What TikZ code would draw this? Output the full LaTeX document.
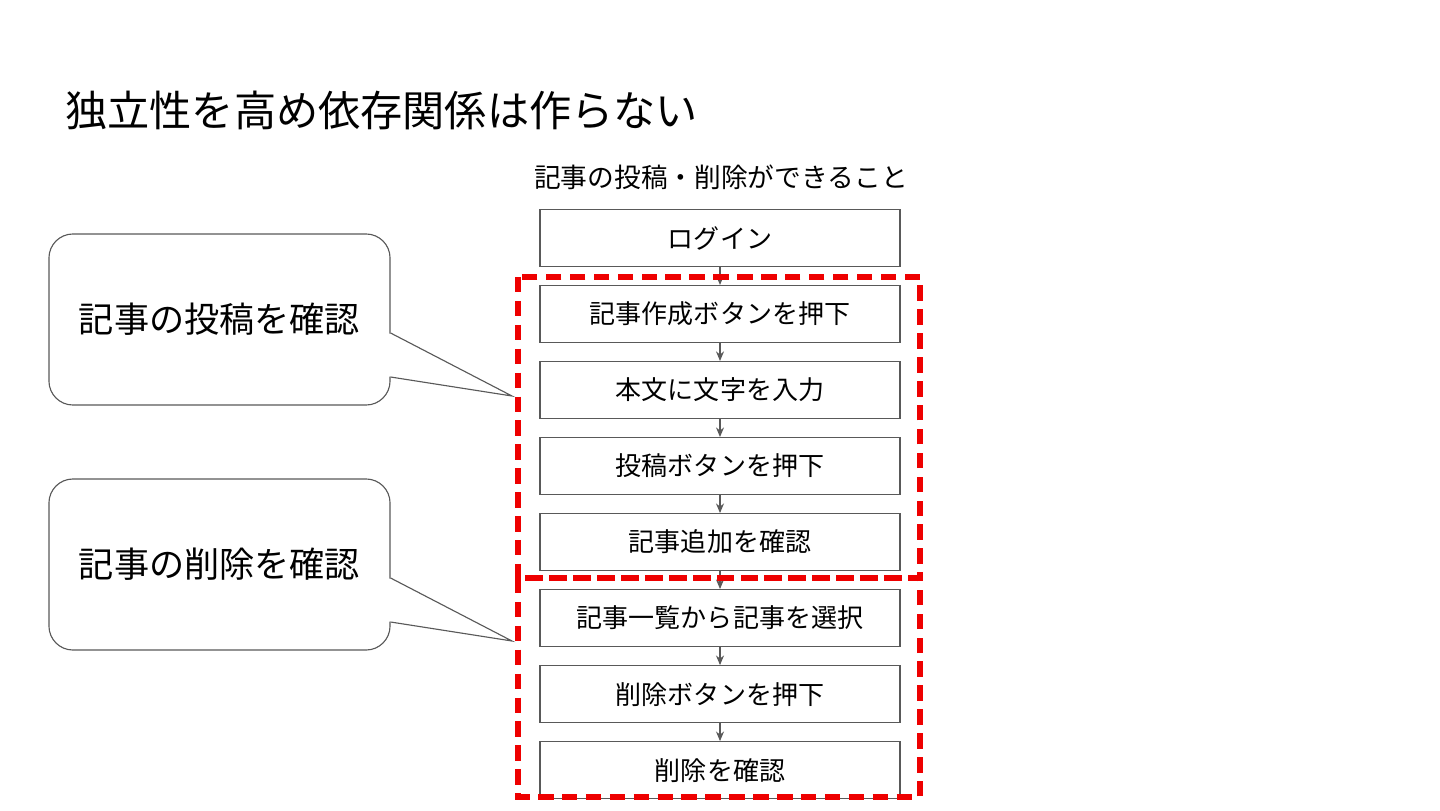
\documentclass[tikz,border=0pt]{standalone}
\usepackage{fontspec}
\setmainfont{Noto Sans CJK JP}
\usepackage{tikz}
\usetikzlibrary{calc,arrows.meta,positioning}
\definecolor{linec}{HTML}{595959}
\definecolor{redc}{HTML}{EE0000}
\tikzset{
  ar/.style={-{Stealth[length=2.4mm,width=2mm]},linec,line width=0.8pt},
  box/.style={draw=linec,line width=0.8pt,minimum width=9cm,minimum height=1.425cm,inner sep=0pt,font=\fontsize{18.5}{22}\selectfont},
  grp/.style={draw=redc,line width=3.6pt,dash pattern=on 11pt off 6pt},
  balloon/.style={draw=linec,line width=0.8pt,rounded corners=0.6cm,fill=white,minimum width=8.525cm,minimum height=4.275cm,inner sep=0pt,font=\fontsize{25}{30}\selectfont}
}
\begin{document}
\begin{tikzpicture}[x=0.025cm,y=-0.025cm,node distance=0.447cm]
\useasboundingbox (0,0) rectangle (1440,810);
\node[anchor=west,inner sep=0pt,font=\fontsize{30}{36}\selectfont] (title) at (65,110) {独立性を高め依存関係は作らない};
\node[font=\fontsize{19}{23}\selectfont] (sub) at (721,177) {記事の投稿・削除ができること};
% steps
\node[box] (login) at (720,238) {ログイン};
\node[box,below=of login] (create) {記事作成ボタンを押下};
\node[box,below=of create] (body) {本文に文字を入力};
\node[box,below=of body] (post) {投稿ボタンを押下};
\node[box,below=of post] (added) {記事追加を確認};
\node[box,below=of added] (select) {記事一覧から記事を選択};
\node[box,below=of select] (del) {削除ボタンを押下};
\node[box,below=of del] (gone) {削除を確認};
\foreach \a/\b in {login/create,create/body,body/post,post/added,added/select,select/del,del/gone}
  \draw[ar] (\a) -- (\b);
% groups
\draw[grp] (518,277) rectangle (920,578);
\draw[grp] (518,578) rectangle (920,797);
% callouts
\node[balloon] (cpost) at (219.5,319.5) {記事の投稿を確認};
\node[balloon] (cdel) at (219.5,564.5) {記事の削除を確認};
\coordinate (tip1) at (512,396);
\coordinate (tip2) at (512,641);
\foreach \c/\t in {cpost/tip1,cdel/tip2}{
  \fill[white] ($(\c.east)+(-3,14)$) -- ($(\c.east)+(3,14)$) -- (\t) -- ($(\c.east)+(3,57)$) -- ($(\c.east)+(-3,57)$) -- cycle;
  \draw[linec,line width=0.8pt] ($(\c.east)+(0,13.5)$) -- (\t) -- ($(\c.east)+(0,57.5)$);
}
\end{tikzpicture}
\end{document}
